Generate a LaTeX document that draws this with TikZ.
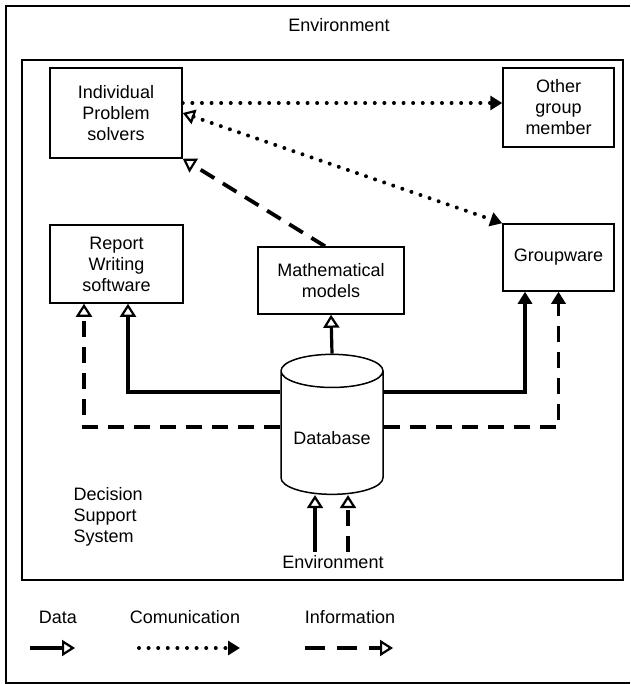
\documentclass[tikz,border=0pt]{standalone}
\usepackage{fontspec}
\setmainfont{Liberation Sans}
\usetikzlibrary{arrows.meta,shapes.geometric,calc}

\begin{document}
\begin{tikzpicture}[x=1pt, y=-1pt,
  font=\fontsize{18}{21}\selectfont,
  box/.style={draw, line width=1.5pt, align=center, inner sep=0pt},
  db/.style={cylinder, shape border rotate=90, draw, line width=1.5pt, aspect=0.43,
    minimum width=102pt, minimum height=140pt, inner sep=0pt},
  data/.style={line width=3.2pt, -{Triangle[open, length=13pt, width=16pt, line width=2.2pt]}},
  comm/.style={line width=4pt, line cap=round, dash pattern=on 0pt off 9.6pt,
    -{Triangle[length=12pt, width=14pt]}},
  info/.style={line width=3.8pt, dash pattern=on 16pt off 10pt,
    -{Triangle[open, length=13pt, width=16pt, line width=2.2pt]}},
  fullhead/.style={-{Triangle[length=12pt, width=14pt]}},
]
\useasboundingbox (0,0) rectangle (630,684);

% frames
\draw[line width=1.8pt] (630,6) -- (6,6) -- (6,683) -- (630,683);
\draw[line width=2.4pt] (22,60) rectangle (623,580);

% boxes
\node[box, minimum width=132pt, minimum height=90pt] (ips) at (116,113) {Individual\\Problem\\solvers};
\node[box, minimum width=111pt, minimum height=79pt] (ogm) at (558.5,107.5) {Other\\group\\member};
\node[box, minimum width=133pt, minimum height=78pt] (rep) at (116.5,264) {Report\\Writing\\software};
\node[box, minimum width=146pt, minimum height=67pt] (math) at (331,280.5) {Mathematical\\models};
\node[box, minimum width=111pt, minimum height=67pt] (grp) at (558.5,257.5) {Groupware};
\node[db] (db) at (332,433) {\raisebox{-11pt}[0pt][0pt]{Database}};

% labels
\node (envtop) at (339,25) {Environment};
\node (envbot) at (333,562) {Environment};
\node[align=left, anchor=west] (dss) at (70,517) {Decision\\Support\\System};

% communication
\coordinate (commY) at ([yshift=10pt]ips.east);
\draw[comm] (commY) -- (commY -| ogm.west);
\draw[comm, {Triangle[open, length=12pt, width=15pt, line width=2.2pt]}-{Triangle[length=12pt, width=14pt]}]
  (ips.east) -- (grp.north west);

% information to solvers
\draw[info] ([xshift=-6pt]math.north) -- (ips.south east);

% database outputs
\coordinate (dataY) at (0,392);
\coordinate (infoY) at (0,427);
\draw[data] (db.north) -- (math.south);
\draw[data] (db.west |- dataY) -| ([xshift=11.5pt]rep.south);
\draw[info] (db.west |- infoY) -| ([xshift=-32.5pt]rep.south);
\draw[data, fullhead] (db.east |- dataY) -| ([xshift=-33.5pt]grp.south);
\draw[info, fullhead] (db.east |- infoY) -| (grp.south);

% database inputs
\coordinate (dbinD) at ([xshift=-17pt]db.south);
\coordinate (dbinI) at ([xshift=16pt]db.south);
\draw[data] (dbinD |- envbot.north) -- (dbinD);
\draw[info] (dbinI |- envbot.north) -- (dbinI);

% legend
\node (lgdata) at (58,617) {Data};
\node (lgcomm) at (185,617) {Comunication};
\node (lginfo) at (350,617) {Information};
\coordinate (lgdataA) at (30,648);
\coordinate (lgdataB) at (75,648);
\coordinate (lgcommA) at (139,648);
\coordinate (lgcommB) at (240,648);
\coordinate (lginfoA) at (305,648);
\coordinate (lginfoB) at (393,648);
\draw[data] (lgdataA) -- (lgdataB);
\draw[comm] (lgcommA) -- (lgcommB);
\draw[info, dash pattern=on 20pt off 12pt] (lginfoA) -- (lginfoB);
\end{tikzpicture}
\end{document}
